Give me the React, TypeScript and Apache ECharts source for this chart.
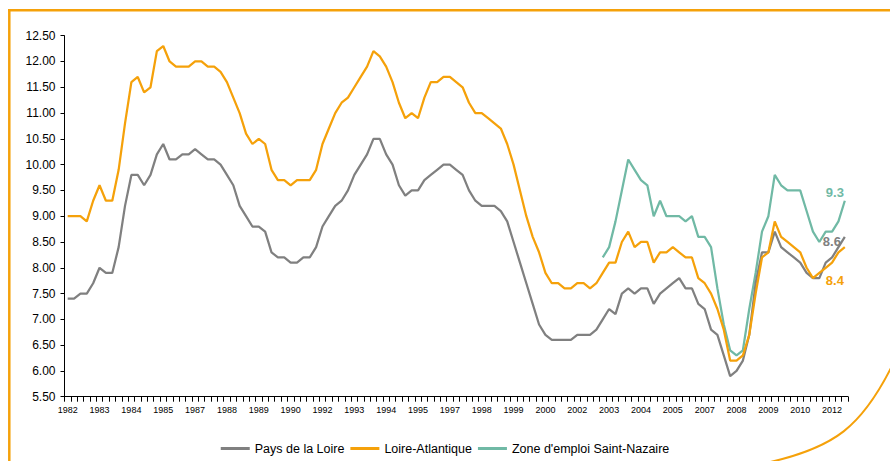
import React, { useEffect, useRef } from "react";
import * as echarts from "echarts";

const START_YEAR = 1982;
const N_QUARTERS = 123;
const categories: string[] = Array.from({ length: N_QUARTERS }, (_, i) => `${START_YEAR + Math.floor(i / 4)} T${(i % 4) + 1}`);

const paysDeLaLoire = [
  7.4, 7.4, 7.5, 7.5, 7.7, 8.0, 7.9, 7.9, 8.4, 9.2,
  9.8, 9.8, 9.6, 9.8, 10.2, 10.4, 10.1, 10.1, 10.2, 10.2,
  10.3, 10.2, 10.1, 10.1, 10.0, 9.8, 9.6, 9.2, 9.0, 8.8,
  8.8, 8.7, 8.3, 8.2, 8.2, 8.1, 8.1, 8.2, 8.2, 8.4,
  8.8, 9.0, 9.2, 9.3, 9.5, 9.8, 10.0, 10.2, 10.5, 10.5,
  10.2, 10.0, 9.6, 9.4, 9.5, 9.5, 9.7, 9.8, 9.9, 10.0,
  10.0, 9.9, 9.8, 9.5, 9.3, 9.2, 9.2, 9.2, 9.1, 8.9,
  8.5, 8.1, 7.7, 7.3, 6.9, 6.7, 6.6, 6.6, 6.6, 6.6,
  6.7, 6.7, 6.7, 6.8, 7.0, 7.2, 7.1, 7.5, 7.6, 7.5,
  7.6, 7.6, 7.3, 7.5, 7.6, 7.7, 7.8, 7.6, 7.6, 7.3,
  7.2, 6.8, 6.7, 6.3, 5.9, 6.0, 6.2, 6.7, 7.7, 8.3,
  8.3, 8.7, 8.4, 8.3, 8.2, 8.1, 7.9, 7.8, 7.8, 8.1,
  8.2, 8.4, 8.6,
];

const loireAtlantique = [
  9.0, 9.0, 9.0, 8.9, 9.3, 9.6, 9.3, 9.3, 9.9, 10.8,
  11.6, 11.7, 11.4, 11.5, 12.2, 12.3, 12.0, 11.9, 11.9, 11.9,
  12.0, 12.0, 11.9, 11.9, 11.8, 11.6, 11.3, 11.0, 10.6, 10.4,
  10.5, 10.4, 9.9, 9.7, 9.7, 9.6, 9.7, 9.7, 9.7, 9.9,
  10.4, 10.7, 11.0, 11.2, 11.3, 11.5, 11.7, 11.9, 12.2, 12.1,
  11.9, 11.6, 11.2, 10.9, 11.0, 10.9, 11.3, 11.6, 11.6, 11.7,
  11.7, 11.6, 11.5, 11.2, 11.0, 11.0, 10.9, 10.8, 10.7, 10.4,
  10.0, 9.5, 9.0, 8.6, 8.3, 7.9, 7.7, 7.7, 7.6, 7.6,
  7.7, 7.7, 7.6, 7.7, 7.9, 8.1, 8.1, 8.5, 8.7, 8.4,
  8.5, 8.5, 8.1, 8.3, 8.3, 8.4, 8.3, 8.2, 8.2, 7.8,
  7.7, 7.5, 7.2, 6.8, 6.2, 6.2, 6.3, 6.7, 7.5, 8.2,
  8.3, 8.9, 8.6, 8.5, 8.4, 8.3, 8.0, 7.8, 7.9, 8.0,
  8.1, 8.3, 8.4,
];

const saintNazaireStart = 84;
const saintNazaireValues = [
  8.2, 8.4, 8.9, 9.5, 10.1, 9.9, 9.7, 9.6, 9.0, 9.3,
  9.0, 9.0, 9.0, 8.9, 9.0, 8.6, 8.6, 8.4, 7.6, 6.9,
  6.4, 6.3, 6.4, 7.2, 7.9, 8.7, 9.0, 9.8, 9.6, 9.5,
  9.5, 9.5, 9.1, 8.7, 8.5, 8.7, 8.7, 8.9, 9.3,
];
const saintNazaire: (number | null)[] = [
  ...Array(saintNazaireStart).fill(null),
  ...saintNazaireValues,
];

const seriesNames = ["Pays de la Loire", "Loire-Atlantique", "Zone d'emploi Saint-Nazaire"];
const GREY = "#808080";
const ORANGE = "#F5A10A";
const TEAL = "#70B9A5";
const FONT = "'Liberation Sans', Arial, sans-serif";

function endMark(data: (number | null)[], color: string, offset: [number, number]) {
  const last = data.length - 1;
  const v = data[last] as number;
  return {
    symbol: "circle",
    symbolSize: 2,
    silent: true,
    itemStyle: { color: "transparent" },
    label: {
      show: true,
      position: "inside",
      offset,
      formatter: () => v.toFixed(1),
      color,
      fontWeight: "bold",
      fontSize: 13,
      fontFamily: FONT,
    },
    data: [{ coord: [last, v] }],
  };
}

export default function App() {
  const ref = useRef<HTMLDivElement>(null);
  useEffect(() => {
    if (!ref.current) return;
    const chart = echarts.init(ref.current, null, { renderer: "svg" });
    chart.setOption({
      animation: false,
      backgroundColor: "#ffffff",
      textStyle: { fontFamily: FONT },
      grid: { left: 64.5, right: 42, top: 35.7, bottom: 64.3, containLabel: false },
      legend: {
        data: seriesNames,
        top: 437,
        left: "center",
        icon: "rect",
        itemWidth: 29,
        itemHeight: 3,
        itemGap: 6,
        textStyle: { fontSize: 12.5, color: "#000", fontFamily: FONT },
      },
      xAxis: {
        type: "category",
        data: categories,
        boundaryGap: true,
        axisLine: { show: true, lineStyle: { color: "#000", width: 1 } },
        axisTick: { show: true, interval: 0, length: 5, lineStyle: { color: "#000" } },
        axisLabel: {
          interval: 4,
          fontSize: 9,
          color: "#000",
          margin: 9,
          fontFamily: FONT,
          formatter: (v: string) => v.slice(0, 4),
        },
        splitLine: { show: false },
      },
      yAxis: {
        type: "value",
        min: 5.5,
        max: 12.5,
        interval: 0.5,
        axisLine: { show: true, lineStyle: { color: "#000", width: 1 } },
        axisTick: { show: true, length: 4, lineStyle: { color: "#000" } },
        axisLabel: {
          fontSize: 12,
          color: "#000",
          margin: 9,
          fontFamily: FONT,
          formatter: (v: number) => v.toFixed(2),
        },
        splitLine: { show: false },
      },
      series: [
        {
          name: seriesNames[0],
          type: "line",
          data: paysDeLaLoire,
          showSymbol: false,
          symbol: "none",
          color: GREY,
          lineStyle: { color: GREY, width: 2.25 },
          markPoint: endMark(paysDeLaLoire, GREY, [-13, 5]),
          z: 3,
        },
        {
          name: seriesNames[1],
          type: "line",
          data: loireAtlantique,
          showSymbol: false,
          symbol: "none",
          color: ORANGE,
          lineStyle: { color: ORANGE, width: 2.25 },
          markPoint: endMark(loireAtlantique, ORANGE, [-10, 33]),
          z: 4,
        },
        {
          name: seriesNames[2],
          type: "line",
          data: saintNazaire,
          showSymbol: false,
          symbol: "none",
          connectNulls: false,
          color: TEAL,
          lineStyle: { color: TEAL, width: 2.25 },
          markPoint: endMark(saintNazaire, TEAL, [-10, -8]),
          z: 2,
        },
      ],
      graphic: [
        {
          type: "line",
          silent: true,
          shape: { x1: 8, y1: 10.3, x2: 892, y2: 10.3 },
          style: { stroke: ORANGE, lineWidth: 2.5 },
        },
        {
          type: "line",
          silent: true,
          shape: { x1: 9.3, y1: 9, x2: 9.3, y2: 470 },
          style: { stroke: ORANGE, lineWidth: 2.5 },
        },
        {
          type: "bezierCurve",
          silent: true,
          shape: { x1: 766, y1: 463, cpx1: 835, cpy1: 448, cpx2: 862, cpy2: 426, x2: 892, y2: 366 },
          style: { stroke: ORANGE, lineWidth: 2, fill: "none" },
        },
      ],
    });
    return () => chart.dispose();
  }, []);
  return (
    <div
      ref={ref}
      style={{ position: "fixed", left: 0, top: 0, width: 890, height: 461, background: "#fff" }}
    />
  );
}
